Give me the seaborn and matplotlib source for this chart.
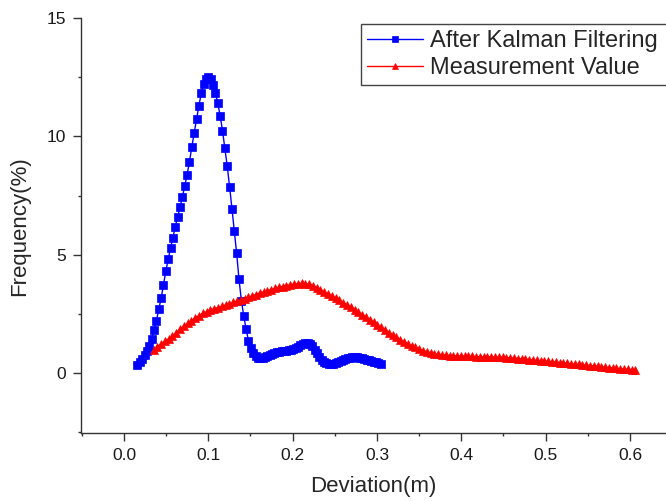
import matplotlib
matplotlib.use('Agg')
import matplotlib.pyplot as plt
import seaborn as sns
from matplotlib.ticker import MultipleLocator, FormatStrFormatter

# After Kalman Filtering (blue squares)
kalman_x = [0.016, 0.0188, 0.0216, 0.0244, 0.0272, 0.03, 0.0328, 0.0356, 0.0384, 0.0412,
            0.044, 0.0468, 0.0496, 0.0524, 0.0552, 0.058, 0.0608, 0.0636, 0.0664, 0.0692,
            0.072, 0.0748, 0.0776, 0.0804, 0.0832, 0.086, 0.0888, 0.0916, 0.0944, 0.0972,
            0.1, 0.1028, 0.1056, 0.1084, 0.1112, 0.114, 0.1168, 0.1196, 0.1224, 0.1252,
            0.128, 0.1308, 0.1336, 0.1364, 0.1392, 0.142, 0.1448, 0.1476, 0.1504, 0.1532,
            0.156, 0.1588, 0.1616, 0.1644, 0.1672, 0.17, 0.1728, 0.1756, 0.1784, 0.1812,
            0.184, 0.1868, 0.1896, 0.1924, 0.1952, 0.198, 0.2008, 0.2036, 0.2064, 0.2092,
            0.212, 0.2148, 0.2176, 0.2204, 0.2232, 0.226, 0.2288, 0.2316, 0.2344, 0.2372,
            0.24, 0.2428, 0.2456, 0.2484, 0.2512, 0.254, 0.2568, 0.2596, 0.2624, 0.2652,
            0.268, 0.2708, 0.2736, 0.2764, 0.2792, 0.282, 0.2848, 0.2876, 0.2904, 0.2932,
            0.296, 0.2988, 0.3016, 0.3044]
kalman_y = [0.33, 0.45, 0.58, 0.74, 0.93, 1.15, 1.45, 1.8, 2.2, 2.68,
            3.15, 3.72, 4.3, 4.8, 5.28, 5.72, 6.18, 6.6, 7.0, 7.43,
            7.9, 8.38, 8.93, 9.55, 10.15, 10.72, 11.3, 11.82, 12.2, 12.45,
            12.52, 12.45, 12.18, 11.85, 11.4, 10.88, 10.25, 9.5, 8.75, 7.88,
            6.95, 6.0, 5.05, 3.95, 3.05, 2.4, 1.85, 1.36, 1.05, 0.82,
            0.7, 0.64, 0.62, 0.64, 0.68, 0.72, 0.76, 0.8, 0.83, 0.86,
            0.88, 0.9, 0.91, 0.93, 0.95, 0.97, 1.0, 1.05, 1.1, 1.16,
            1.21, 1.25, 1.26, 1.22, 1.12, 0.98, 0.82, 0.68, 0.56, 0.47,
            0.41, 0.37, 0.36, 0.37, 0.4, 0.44, 0.49, 0.54, 0.58, 0.61,
            0.63, 0.65, 0.65, 0.65, 0.63, 0.61, 0.59, 0.56, 0.53, 0.5,
            0.47, 0.44, 0.41, 0.38]

# Measurement Value (red triangles)
meas_x = [0.035, 0.0395, 0.044, 0.0485, 0.053, 0.0575, 0.062, 0.0665, 0.071, 0.0755,
          0.08, 0.0845, 0.089, 0.0935, 0.098, 0.1025, 0.107, 0.1115, 0.116, 0.1205,
          0.125, 0.1295, 0.134, 0.1385, 0.143, 0.1475, 0.152, 0.1565, 0.161, 0.1655,
          0.17, 0.1745, 0.179, 0.1835, 0.188, 0.1925, 0.197, 0.2015, 0.206, 0.2105,
          0.215, 0.2195, 0.224, 0.2285, 0.233, 0.2375, 0.242, 0.2465, 0.251, 0.2555,
          0.26, 0.2645, 0.269, 0.2735, 0.278, 0.2825, 0.287, 0.2915, 0.296, 0.3005,
          0.305, 0.3095, 0.314, 0.3185, 0.323, 0.3275, 0.332, 0.3365, 0.341, 0.3455,
          0.35, 0.3545, 0.359, 0.3635, 0.368, 0.3725, 0.377, 0.3815, 0.386, 0.3905,
          0.395, 0.3995, 0.404, 0.4085, 0.413, 0.4175, 0.422, 0.4265, 0.431, 0.4355,
          0.44, 0.4445, 0.449, 0.4535, 0.458, 0.4625, 0.467, 0.4715, 0.476, 0.4805,
          0.485, 0.4895, 0.494, 0.4985, 0.503, 0.5075, 0.512, 0.5165, 0.521, 0.5255,
          0.53, 0.5345, 0.539, 0.5435, 0.548, 0.5525, 0.557, 0.5615, 0.566, 0.5705,
          0.575, 0.5795, 0.584, 0.5885, 0.593, 0.5975, 0.602, 0.6065]
meas_y = [0.96, 1.09, 1.22, 1.33, 1.44, 1.56, 1.7, 1.84, 1.97, 2.09,
          2.2, 2.31, 2.42, 2.51, 2.59, 2.65, 2.71, 2.76, 2.81, 2.87,
          2.93, 2.98, 3.03, 3.08, 3.13, 3.19, 3.25, 3.31, 3.37, 3.42,
          3.47, 3.52, 3.57, 3.61, 3.65, 3.69, 3.72, 3.75, 3.77, 3.78,
          3.77, 3.74, 3.68, 3.6, 3.51, 3.42, 3.33, 3.24, 3.15, 3.06,
          2.97, 2.88, 2.78, 2.67, 2.56, 2.45, 2.34, 2.24, 2.14, 2.02,
          1.92, 1.81, 1.7, 1.6, 1.5, 1.4, 1.31, 1.22, 1.14, 1.07,
          1.0, 0.94, 0.89, 0.85, 0.81, 0.78, 0.76, 0.74, 0.73, 0.72,
          0.71, 0.7, 0.7, 0.69, 0.69, 0.68, 0.68, 0.67, 0.67, 0.66,
          0.66, 0.65, 0.65, 0.64, 0.63, 0.62, 0.6, 0.59, 0.57, 0.56,
          0.54, 0.52, 0.51, 0.49, 0.48, 0.46, 0.45, 0.43, 0.41, 0.4,
          0.38, 0.37, 0.35, 0.33, 0.32, 0.3, 0.29, 0.27, 0.25, 0.24,
          0.22, 0.21, 0.19, 0.17, 0.16, 0.14, 0.13, 0.11]

x_ticks = [0.0, 0.1, 0.2, 0.3, 0.4, 0.5, 0.6]
y_ticks = [0, 5, 10, 15]

sns.set_style('ticks')
plt.rcParams['font.family'] = ['Liberation Sans', 'DejaVu Sans']

fig = plt.figure(figsize=(6.66, 5.01), dpi=100)
ax = fig.add_axes([0.1216, 0.1357, 0.8784, 0.8277])

sns.lineplot(x=kalman_x, y=kalman_y, ax=ax, sort=False, estimator=None,
             color='#0000ff', linewidth=1.0, marker='s', markersize=5.3,
             markeredgecolor='#0000ff', markeredgewidth=0.5,
             label='After Kalman Filtering')
sns.lineplot(x=meas_x, y=meas_y, ax=ax, sort=False, estimator=None,
             color='#ff0000', linewidth=1.0, marker='^', markersize=6.3,
             markeredgecolor='#ff0000', markeredgewidth=0.5,
             label='Measurement Value')

ax.set_xlim(-0.051, 0.6427)
ax.set_ylim(-2.55, 15)
ax.set_xticks(x_ticks)
ax.set_yticks(y_ticks)
ax.xaxis.set_major_formatter(FormatStrFormatter('%.1f'))
ax.xaxis.set_minor_locator(MultipleLocator(0.05))
ax.yaxis.set_minor_locator(MultipleLocator(2.5))
ax.tick_params(which='major', direction='out', length=5.5, width=1, color='#333333',
               labelsize=12.5, labelcolor='#1a1a1a', pad=5)
ax.tick_params(which='minor', direction='out', length=2.5, width=1, color='#333333')

for side in ['top', 'right']:
    ax.spines[side].set_visible(False)
for side in ['left', 'bottom']:
    ax.spines[side].set_color('#333333')
    ax.spines[side].set_linewidth(1)

ax.set_xlabel('Deviation(m)', fontsize=16, labelpad=10)
ax.set_ylabel('Frequency(%)', fontsize=16, labelpad=12)

# legend box runs off the right edge, as in the original
top = 1 - 24.3 / 501
ax.legend(loc='upper left', bbox_to_anchor=(360.7 / 666, top - 0.2, 0.47, 0.2),
          bbox_transform=fig.transFigure, mode='expand', borderaxespad=0,
          fontsize=17, frameon=True, fancybox=False, edgecolor='#444444',
          framealpha=1, handlelength=2.4, handletextpad=0.3, labelspacing=0.22,
          borderpad=0.25, markerscale=0.7)
ax.get_legend().get_frame().set_linewidth(1)

fig.savefig('out.png', dpi=100)
